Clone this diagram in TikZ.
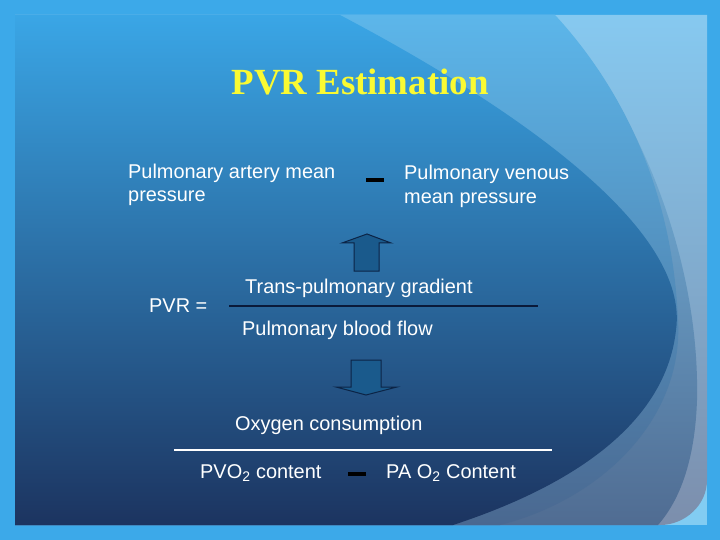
\documentclass[tikz,border=0pt]{standalone}
\usepackage{fontspec}
\setmainfont{Liberation Sans}
\newfontfamily\titlefont{Liberation Serif}
\usetikzlibrary{positioning}

\definecolor{rahmen}{RGB}{60,169,233}
\definecolor{ecke}{RGB}{130,204,242}
\definecolor{hellOben}{RGB}{134,201,240}
\definecolor{hellUnten}{RGB}{124,142,172}
\definecolor{mitteOben}{RGB}{122,194,236}
\definecolor{mitteUnten}{RGB}{80,108,146}
\definecolor{bandOben}{RGB}{92,182,234}
\definecolor{bandUnten}{RGB}{74,104,144}
\definecolor{hauptOben}{RGB}{58,166,230}
\definecolor{hauptUnten}{RGB}{28,52,96}
\definecolor{titelgelb}{RGB}{250,250,50}
\definecolor{pfeilblau}{RGB}{26,90,140}
\definecolor{pfeilrand}{RGB}{12,36,70}
\definecolor{bruchdunkel}{RGB}{10,26,58}

\begin{document}
\begin{tikzpicture}[
    x=1bp, y=-1bp,
    txt/.style={text=white, font=\fontsize{20}{23}\selectfont, inner sep=0pt, anchor=base west},
    title/.style={text=titelgelb, font=\titlefont\bfseries\fontsize{37}{40}\selectfont, inner sep=0pt, anchor=base},
    minus/.style={rectangle, fill=black, inner sep=0pt, minimum width=18bp, minimum height=4bp},
    blockpfeil/.style={fill=pfeilblau, draw=pfeilrand, line width=1bp, line join=miter},
    fracline/.style={line width=1.2bp}
]
\useasboundingbox (0,0) rectangle (720,540);

% Hintergrund
\fill[rahmen] (0,0) rectangle (720,540);
\fill[ecke] (15,15) rectangle (707,525);
\shade[top color=hellOben, bottom color=hellUnten]
    (15,15) -- (707,15) -- (707,480) .. controls (707,505) and (685,525) .. (660,525) -- (15,525) -- cycle;
\shade[top color=mitteOben, bottom color=mitteUnten]
    (15,15) -- (555,15) .. controls (640,110) and (700,260) .. (697,400)
    .. controls (695,460) and (680,500) .. (658,525) -- (15,525) -- cycle;
\shade[top color=bandOben, bottom color=bandUnten]
    (15,15) -- (555,15) .. controls (615,80) and (672,180) .. (678,320)
    .. controls (684,420) and (600,500) .. (500,525) -- (15,525) -- cycle;
\shade[top color=hauptOben, bottom color=hauptUnten]
    (15,15) -- (340,15) .. controls (520,110) and (690,230) .. (676,330)
    .. controls (665,430) and (560,490) .. (453,525) -- (15,525) -- cycle;

% Titel
\node[title] (titel) at (360,95) {PVR Estimation};

% Transpulmonaler Gradient
\node[txt] (pamA) at (128,178.5) {Pulmonary artery mean};
\node[txt] (pamB) at (128,202) {pressure};
\node[minus] (minus1) at (375,180) {};
\node[txt] (pvmA) at (404,180) {Pulmonary venous};
\node[txt] (pvmB) at (404,203.5) {mean pressure};

% Pfeil nach oben
\coordinate (uptip) at (367,234);
\draw[blockpfeil] (uptip) -- ++(24,9) -- ++(-12,0) -- ++(0,28) -- ++(-25,0) -- ++(0,-28) -- ++(-12,0) -- cycle;

% PVR Bruch
\node[txt] (tpg) at (245,293) {Trans-pulmonary gradient};
\node[txt] (pvr) at (149,312) {PVR =};
\node[txt] (pbf) at (242,335) {Pulmonary blood flow};
\coordinate (bar1l) at (229,306);
\coordinate (bar1r) at (538,306);
\draw[fracline, bruchdunkel] (bar1l) -- (bar1r);

% Pfeil nach unten
\coordinate (dntip) at (366,395);
\draw[blockpfeil] (dntip) -- ++(31,-8) -- ++(-16,0) -- ++(0,-27) -- ++(-30,0) -- ++(0,27) -- ++(-15,0) -- cycle;

% Fick-Prinzip
\node[txt] (oxy) at (235,430.5) {Oxygen consumption};
\coordinate (bar2l) at (174,450);
\coordinate (bar2r) at (552,450);
\draw[fracline, white] (bar2l) -- (bar2r);
\node[txt] (pvo) at (200,478) {PVO\textsubscript{2} content};
\node[minus] (minus2) at (357,473.5) {};
\node[txt] (pao) at (386,478) {PA O\textsubscript{2} Content};
\end{tikzpicture}
\end{document}
